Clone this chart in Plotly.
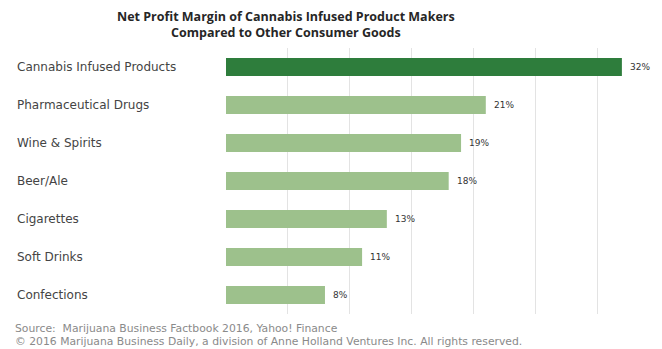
import plotly.graph_objects as go

categories = ["Cannabis Infused Products", "Pharmaceutical Drugs", "Wine & Spirits",
              "Beer/Ale", "Cigarettes", "Soft Drinks", "Confections"]
margins = [32, 21, 19, 18, 13, 11, 8]
bar_colors = ["#2e7d3c", "#9dc18c", "#9dc18c", "#9dc18c", "#9dc18c", "#9dc18c", "#9dc18c"]
value_labels = [f"{v}%" for v in margins]

title_text = ("<b>Net Profit Margin of Cannabis Infused Product Makers</b><br>"
              "<b>Compared to Other Consumer Goods</b>")
source_line = "Source:  Marijuana Business Factbook 2016, Yahoo! Finance"
copyright_line = ("© 2016 Marijuana Business Daily, a division of Anne Holland "
                  "Ventures Inc. All rights reserved.")

W, H = 662, 349
ML, MR, MT, MB = 226, 3, 48, 35
plot_w = W - ML - MR
plot_h = H - MT - MB


def px(pix_from_left):
    return (pix_from_left - ML) / plot_w


def py(pix_from_top):
    return (H - MB - pix_from_top) / plot_h


fig = go.Figure(go.Bar(
    x=margins,
    y=categories,
    orientation="h",
    marker=dict(color=bar_colors, line=dict(width=0)),
    width=0.47,
    hoverinfo="x+y",
))

# value labels just past the end of each bar
for cat, v, lab in zip(categories, margins, value_labels):
    fig.add_annotation(
        x=v, xref="x", xanchor="left", xshift=6,
        y=cat, yref="y", yanchor="middle",
        text=lab, showarrow=False,
        font=dict(family="DejaVu Sans", size=9, color="#333333"),
    )

# category labels, left-aligned at the page edge
for cat in categories:
    fig.add_annotation(
        x=px(15), xref="paper", xanchor="left",
        y=cat, yref="y", yanchor="middle",
        text=cat, showarrow=False,
        font=dict(family="DejaVu Sans", size=12, color="#444444"),
    )

fig.add_annotation(
    x=px(286), xref="paper", xanchor="center",
    y=py(25), yref="paper", yanchor="middle", showarrow=False,
    text=title_text,
    font=dict(family="Open Sans", size=12.5, color="#262626"),
)

fig.add_annotation(
    x=px(13), xref="paper", xanchor="left",
    y=py(328), yref="paper", yanchor="middle", showarrow=False,
    text=source_line, font=dict(family="DejaVu Sans", size=10.8, color="#8a8a8a"),
)
fig.add_annotation(
    x=px(13), xref="paper", xanchor="left",
    y=py(341), yref="paper", yanchor="middle", showarrow=False,
    text=copyright_line, font=dict(family="DejaVu Sans", size=10.8, color="#8a8a8a"),
)

fig.update_layout(
    width=W, height=H,
    margin=dict(l=ML, r=MR, t=MT, b=MB),
    paper_bgcolor="white", plot_bgcolor="white",
    showlegend=False,
    xaxis=dict(range=[0, 35], dtick=5, showticklabels=False, showgrid=True,
               gridcolor="#e3e3e3", gridwidth=1, zeroline=False, showline=False,
               ticks=""),
    yaxis=dict(autorange="reversed", showticklabels=False, showgrid=False,
               zeroline=False, showline=False, ticks=""),
)

fig.write_html("out.html")
